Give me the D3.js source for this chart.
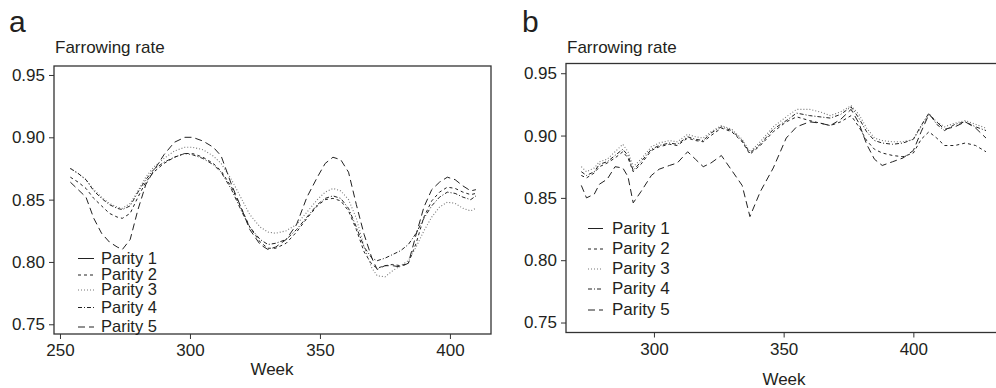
<!DOCTYPE html>
<html><head><meta charset="utf-8">
<script src="https://cdn.jsdelivr.net/npm/d3@7"></script>
<style>
html,body{margin:0;padding:0;background:#fff;}
svg{display:block;font-family:"Liberation Sans",Arial,sans-serif;}
</style></head>
<body><svg id="chart" width="996" height="388"></svg>
<script>
// ---------- Data ----------
const seriesNames = ["Parity 1","Parity 2","Parity 3","Parity 4","Parity 5"];
const yTicks = [0.75,0.80,0.85,0.90,0.95];
const xTicksA = [250,300,350,400];
const xTicksB = [300,350,400];

// Panel a
const weeksA = [254,257,260,263,266,269,272,274,277,280,283,286,290,294,298,301,305,309,312,316,320,323,327,330,333,337,341,345,349,352,355,358,361,364,367,370,372,375,378,381,384,387,390,393,396,399,402,405,408,410];
const parity1A = []; // solid line not visible in the figure
const parity2A = [0.868,0.864,0.859,0.851,0.845,0.839,0.836,0.835,0.839,0.852,0.864,0.872,0.879,0.884,0.887,0.887,0.884,0.879,0.873,0.860,0.842,0.828,0.816,0.811,0.811,0.815,0.824,0.835,0.845,0.850,0.851,0.849,0.841,0.826,0.808,0.798,0.795,0.797,0.798,0.797,0.799,0.815,0.836,0.849,0.856,0.860,0.859,0.856,0.854,0.855];
const parity3A = [0.875,0.871,0.866,0.858,0.852,0.847,0.844,0.843,0.847,0.857,0.868,0.876,0.883,0.889,0.892,0.892,0.890,0.885,0.879,0.866,0.850,0.838,0.828,0.824,0.823,0.825,0.830,0.840,0.850,0.856,0.859,0.857,0.850,0.835,0.812,0.795,0.789,0.788,0.793,0.797,0.801,0.812,0.825,0.836,0.844,0.848,0.847,0.843,0.841,0.843];
const parity4A = [0.875,0.871,0.866,0.857,0.851,0.846,0.843,0.842,0.845,0.856,0.866,0.874,0.880,0.884,0.887,0.886,0.883,0.878,0.872,0.858,0.840,0.828,0.818,0.814,0.815,0.818,0.826,0.836,0.846,0.851,0.853,0.851,0.843,0.828,0.812,0.803,0.801,0.803,0.806,0.809,0.814,0.823,0.835,0.845,0.852,0.856,0.855,0.852,0.850,0.853];
const parity5A = [0.864,0.858,0.852,0.835,0.823,0.816,0.812,0.810,0.818,0.842,0.862,0.873,0.886,0.896,0.900,0.900,0.897,0.892,0.885,0.862,0.842,0.826,0.814,0.810,0.812,0.818,0.830,0.852,0.868,0.879,0.884,0.882,0.872,0.846,0.822,0.803,0.794,0.797,0.797,0.796,0.799,0.822,0.844,0.858,0.864,0.868,0.866,0.861,0.857,0.858];

// Panel b
const weeksB = [272,274,277,279,282,285,288,290,292,295,299,302,306,309,313,316,319,322,326,330,334,337,341,346,351,355,360,364,368,372,376,379,382,385,388,392,396,400,403,406,409,412,416,420,424,428];
const parity1B = []; // solid line not visible in the figure
const parity2B = [0.868,0.866,0.870,0.875,0.878,0.882,0.887,0.882,0.871,0.877,0.888,0.891,0.893,0.892,0.898,0.896,0.895,0.900,0.906,0.903,0.895,0.885,0.892,0.903,0.911,0.915,0.912,0.910,0.908,0.911,0.916,0.907,0.896,0.889,0.886,0.884,0.883,0.886,0.897,0.903,0.898,0.892,0.892,0.894,0.892,0.887];
const parity3B = [0.875,0.871,0.874,0.879,0.881,0.887,0.893,0.887,0.875,0.881,0.891,0.894,0.896,0.895,0.901,0.899,0.898,0.903,0.908,0.905,0.897,0.887,0.895,0.907,0.915,0.921,0.921,0.919,0.916,0.919,0.924,0.917,0.906,0.898,0.896,0.895,0.895,0.897,0.907,0.917,0.911,0.907,0.910,0.912,0.909,0.906];
const parity4B = [0.871,0.868,0.871,0.877,0.879,0.884,0.889,0.884,0.872,0.879,0.889,0.892,0.894,0.893,0.899,0.897,0.896,0.902,0.907,0.904,0.896,0.886,0.893,0.905,0.912,0.918,0.916,0.915,0.914,0.917,0.923,0.914,0.903,0.896,0.894,0.893,0.894,0.897,0.908,0.918,0.909,0.904,0.909,0.911,0.907,0.904];
const parity5B = [0.860,0.850,0.853,0.861,0.865,0.875,0.874,0.867,0.846,0.855,0.868,0.873,0.876,0.878,0.887,0.881,0.875,0.878,0.884,0.872,0.860,0.835,0.855,0.874,0.898,0.907,0.911,0.910,0.908,0.913,0.921,0.910,0.893,0.881,0.876,0.879,0.882,0.888,0.903,0.917,0.911,0.905,0.907,0.911,0.906,0.898];

// ---------- Drawing ----------
const styles = [
  {dash:null, color:"#222", w:1},
  {dash:"3,3", color:"#222", w:1},
  {dash:"1,2", color:"#777", w:1.1},
  {dash:"4,2,1,2", color:"#222", w:1},
  {dash:"7,4", color:"#222", w:1}
];
const txt = "#231f20";
const svg = d3.select("#chart");

function panel(cfg){
  const g = svg.append("g");
  const x = d3.scaleLinear().domain(cfg.xDomain).range([cfg.left, cfg.right]);
  const y = d3.scaleLinear().domain(cfg.yDomain).range([cfg.bottom, cfg.top]);

  // panel letter
  g.append("text").attr("x", cfg.letterX).attr("y", 32).attr("font-size", 30).attr("fill", txt).text(cfg.letter);
  g.append("text").attr("x", cfg.left + 1).attr("y", 53).attr("font-size", 17).attr("fill", txt).text("Farrowing rate");

  // axes
  const ya = g.append("g").attr("transform", `translate(${cfg.left},0)`)
    .call(d3.axisLeft(y).tickValues(yTicks).tickFormat(d3.format(".2f")).tickSize(5).tickSizeOuter(0).tickPadding(4));
  const xa = g.append("g").attr("transform", `translate(0,${cfg.bottom})`)
    .call(d3.axisBottom(x).tickValues(cfg.xTicks).tickFormat(d3.format("d")).tickSize(5).tickSizeOuter(0).tickPadding(5));
  [ya, xa].forEach(a => {
    a.select(".domain").remove();
    a.selectAll("line").attr("stroke", "#333");
    a.selectAll("text").attr("font-size", 17).attr("fill", txt).attr("font-family", "Liberation Sans, Arial, sans-serif");
  });

  // frame
  g.append("rect").attr("x", cfg.left).attr("y", cfg.top)
    .attr("width", cfg.right - cfg.left).attr("height", cfg.bottom - cfg.top)
    .attr("fill", "none").attr("stroke", "#333").attr("stroke-width", 1.3);

  g.append("text").attr("x", cfg.weekX).attr("y", cfg.weekY).attr("text-anchor", "middle")
    .attr("font-size", 17).attr("fill", txt).text("Week");

  // lines
  const line = d3.line().x(d => x(d[0])).y(d => y(d[1]));
  cfg.series.forEach((vals, i) => {
    if (!vals.length) return;
    const pts = cfg.weeks.map((w, j) => [w, vals[j]]);
    const p = g.append("path").datum(pts).attr("d", line).attr("fill", "none")
      .attr("stroke", styles[i].color).attr("stroke-width", styles[i].w);
    if (styles[i].dash) p.attr("stroke-dasharray", styles[i].dash);
  });

  // legend
  seriesNames.forEach((name, i) => {
    const by = cfg.legY[i];
    const l = g.append("line").attr("x1", cfg.legLineX[0]).attr("x2", cfg.legLineX[1])
      .attr("y1", by - 5).attr("y2", by - 5)
      .attr("stroke", styles[i].color).attr("stroke-width", styles[i].w);
    if (styles[i].dash) l.attr("stroke-dasharray", styles[i].dash);
    g.append("text").attr("x", cfg.legTextX).attr("y", by).attr("font-size", cfg.legFont).attr("fill", txt).text(name);
  });
}

panel({
  letter:"a", letterX:9,
  left:54, right:491, top:66, bottom:334,
  xDomain:[247.7, 415.8], yDomain:[0.7422, 0.9572],
  xTicks:xTicksA, weeks:weeksA,
  series:[parity1A, parity2A, parity3A, parity4A, parity5A],
  weekX:272, weekY:375,
  legLineX:[78,94], legTextX:101, legY:[263.5,280,295,312.5,332], legFont:16.5
});

panel({
  letter:"b", letterX:522,
  left:566, right:1000, top:63.5, bottom:332.5,
  xDomain:[266.1, 433.4], yDomain:[0.742, 0.9578],
  xTicks:xTicksB, weeks:weeksB,
  series:[parity1B, parity2B, parity3B, parity4B, parity5B],
  weekX:784, weekY:385,
  legLineX:[588,603], legTextX:612, legY:[233.5,254,274,294,315], legFont:17
});
</script>
</body></html>
